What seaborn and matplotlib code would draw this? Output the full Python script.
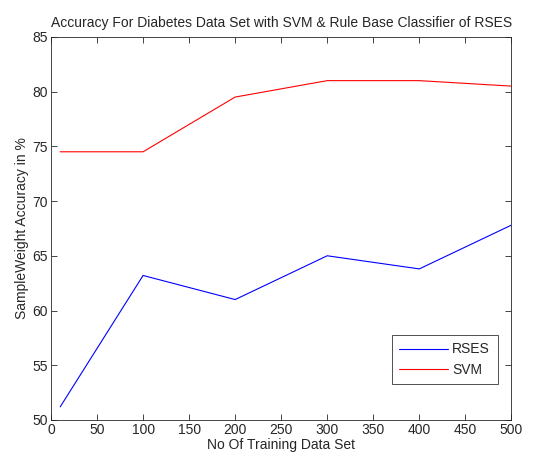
import matplotlib
matplotlib.use("Agg")
import matplotlib.pyplot as plt
import seaborn as sns
import pandas as pd

x_vals = [10, 100, 200, 300, 400, 500]
rses = [51.2, 63.2, 61.0, 65.0, 63.8, 67.8]
svm = [74.5, 74.5, 79.5, 81.0, 81.0, 80.5]
x_ticks = [0, 50, 100, 150, 200, 250, 300, 350, 400, 450, 500]
y_ticks = [50, 55, 60, 65, 70, 75, 80, 85]

sns.set_style("ticks")
plt.rcParams['font.family'] = ['Liberation Sans', 'DejaVu Sans']

df = pd.DataFrame({
    "x": x_vals * 2,
    "y": rses + svm,
    "series": ["RSES"] * len(x_vals) + ["SVM"] * len(x_vals),
})

fig = plt.figure(figsize=(5.52, 4.55), dpi=100)
ax = fig.add_axes([0.0924, 0.077, 0.834, 0.842])
sns.lineplot(data=df, x="x", y="y", hue="series",
             palette={"RSES": "#0000ff", "SVM": "#ff0000"}, linewidth=0.8, ax=ax)
ax.set_xlim(0, 500)
ax.set_ylim(50, 85)
ax.set_xticks(x_ticks)
ax.set_yticks(y_ticks)
ax.tick_params(direction="in", top=True, right=True, labelsize=10, length=4, width=0.6, pad=2)
for s in ax.spines.values():
    s.set_linewidth(0.6)
ax.set_title("Accuracy For Diabetes Data Set with SVM & Rule Base Classifier of RSES",
             fontsize=10, pad=7)
ax.set_xlabel("No Of Training Data Set", fontsize=10, labelpad=1)
ax.set_ylabel("SampleWeight Accuracy in %", fontsize=10, labelpad=3)
leg = ax.legend(loc="lower right", bbox_to_anchor=(0.985, 0.075), fontsize=10, frameon=True,
                fancybox=False, edgecolor="black", handlelength=3.5, borderpad=0.55,
                labelspacing=0.45, handletextpad=0.3)
leg.get_frame().set_linewidth(0.6)
leg.set_title(None)
fig.savefig("out.png", dpi=100)
